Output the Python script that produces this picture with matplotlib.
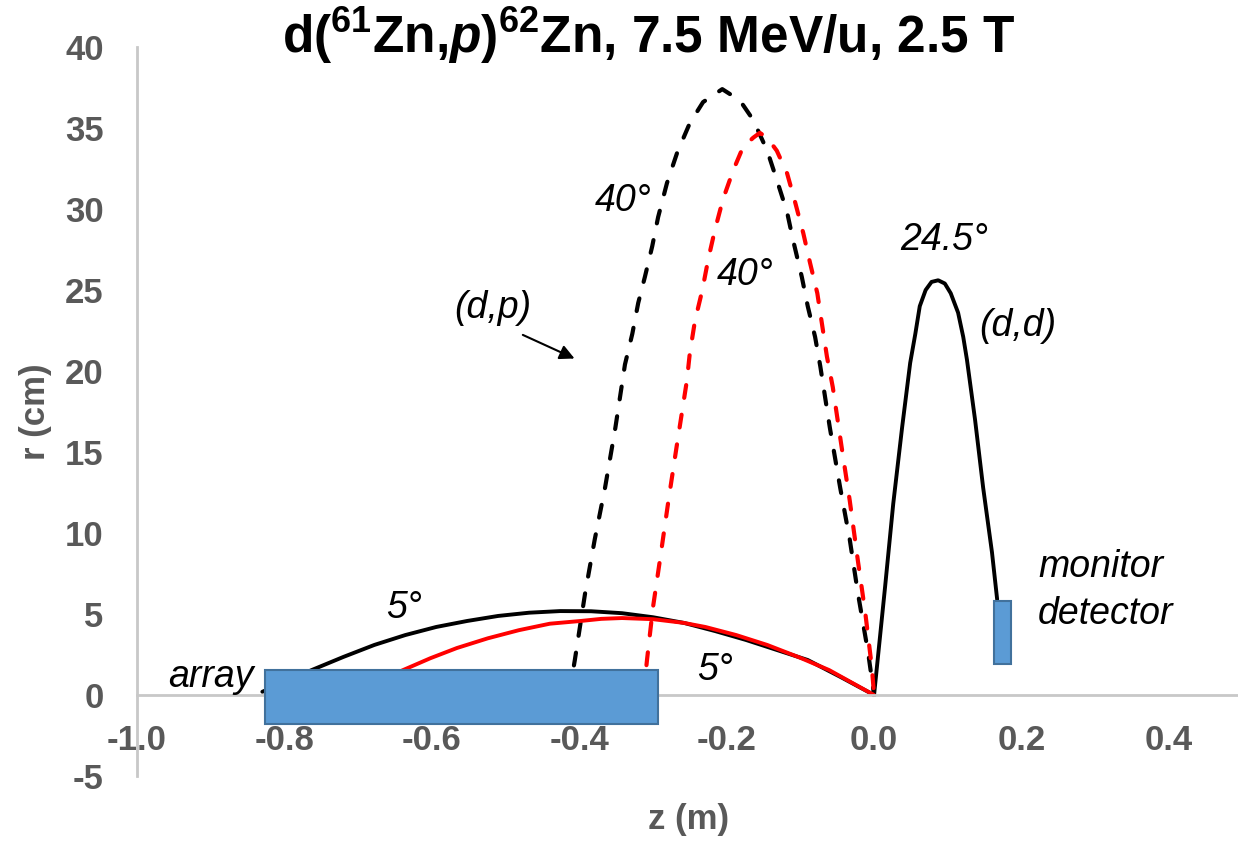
import matplotlib
matplotlib.use('Agg')
import matplotlib.pyplot as plt
from matplotlib.patches import Rectangle

plt.rcParams['font.family'] = ['Liberation Sans', 'DejaVu Sans']
plt.rcParams['axes.unicode_minus'] = False
plt.rcParams['mathtext.fontset'] = 'custom'
plt.rcParams['mathtext.rm'] = 'Liberation Sans:bold'
plt.rcParams['mathtext.it'] = 'Liberation Sans:bold:italic'
plt.rcParams['mathtext.bf'] = 'Liberation Sans:bold'

# (d,p) at 5 deg, black solid
z5_black = [-0.830, -0.763, -0.720, -0.678, -0.636, -0.594, -0.552, -0.510, -0.468, -0.426, -0.384,
            -0.342, -0.300, -0.258, -0.216, -0.174, -0.132, -0.090, -0.045, 0.0]
r5_black = [0.2, 1.54, 2.35, 3.09, 3.70, 4.20, 4.57, 4.88, 5.08, 5.18, 5.17,
            5.05, 4.80, 4.45, 3.95, 3.40, 2.78, 2.16, 1.10, 0.0]

# (d,p) at 5 deg, red solid
z5_red = [-0.700, -0.639, -0.602, -0.566, -0.524, -0.482, -0.440, -0.398, -0.370, -0.342, -0.300,
          -0.258, -0.229, -0.187, -0.145, -0.103, -0.061, 0.0]
r5_red = [0.3, 1.54, 2.27, 2.90, 3.50, 4.00, 4.40, 4.57, 4.70, 4.75, 4.68,
          4.45, 4.20, 3.70, 3.09, 2.35, 1.54, 0.0]

# (d,p) at 40 deg, black dashed
z40_black = [-0.414, -0.406, -0.392, -0.379, -0.365, -0.351, -0.338, -0.328, -0.320, -0.311, -0.301,
             -0.293, -0.281, -0.267, -0.250, -0.232, -0.206, -0.182, -0.164, -0.145, -0.132, -0.118,
             -0.110, -0.098, -0.090, -0.080, -0.073, -0.060, -0.046, -0.033, -0.022, -0.008, 0.0]
r40_black = [0.0, 2.16, 6.3, 9.6, 12.8, 16.5, 20.4, 22.3, 24.2, 25.8, 27.7,
             29.5, 31.6, 33.5, 35.3, 36.6, 37.4, 36.7, 35.5, 33.6, 31.8, 29.8,
             28.1, 25.8, 24.0, 22.1, 20.3, 16.5, 12.8, 9.6, 6.3, 2.6, 0.0]

# (d,p) at 40 deg, red dashed
z40_red = [-0.313, -0.308, -0.300, -0.290, -0.279, -0.268, -0.254, -0.250, -0.243, -0.233, -0.225,
           -0.216, -0.205, -0.191, -0.178, -0.164, -0.155, -0.145, -0.132, -0.118, -0.107, -0.096,
           -0.087, -0.077, -0.071, -0.064, -0.056, -0.044, -0.033, -0.022, -0.012, -0.003, 0.0]
r40_red = [0.0, 2.2, 5.4, 8.5, 12.0, 15.3, 19.4, 21.1, 23.1, 25.0, 26.9,
           28.7, 30.6, 32.4, 33.8, 34.4, 34.7, 34.4, 33.6, 32.2, 30.4, 28.5,
           26.7, 24.8, 23.0, 20.9, 19.0, 15.3, 12.0, 8.3, 5.1, 1.7, 0.0]

# (d,d) at 24.5 deg
z_dd = [0.0, 0.015, 0.026, 0.038, 0.049, 0.056, 0.062, 0.070, 0.078, 0.087, 0.096, 0.104, 0.114,
        0.121, 0.126, 0.137, 0.148, 0.160, 0.167]
r_dd = [0.0, 6.7, 11.8, 16.5, 20.5, 22.3, 24.0, 25.0, 25.5, 25.6, 25.4, 24.8, 23.6,
        22.1, 20.7, 17.0, 12.8, 8.8, 5.9]

# detectors: (z0, z1, r0, r1)
array_box = (-0.827, -0.293, -1.79, 1.54)
monitor_box = (0.163, 0.186, 1.9, 5.8)

x_ticks = [-1.0, -0.8, -0.6, -0.4, -0.2, 0.0, 0.2, 0.4]
y_ticks = [-5, 0, 5, 10, 15, 20, 25, 30, 35, 40]

fig = plt.figure(figsize=(12.38, 8.41), dpi=100)
ax = fig.add_axes([0.1107, 0.0773, 0.893, 0.8668])

# spines first: moving a spine resets the tick labels
for s in ['top', 'right']:
    ax.spines[s].set_visible(False)
ax.spines['bottom'].set_position(('data', 0))
for s in ['left', 'bottom']:
    ax.spines[s].set_color('#C8C8C8')
    ax.spines[s].set_linewidth(2)

lw = 2.8
dash = dict(linestyle=(0, (3.1, 4.1)), dash_capstyle='round', lw=3.0)
ax.plot(z5_black, r5_black, color='black', lw=lw, solid_capstyle='round', solid_joinstyle='round', zorder=2)
ax.plot(z5_red, r5_red, color='#FF0000', lw=lw, solid_capstyle='round', solid_joinstyle='round', zorder=2.1)
ax.plot(z40_black, r40_black, color='black', zorder=2, **dash)
ax.plot(z40_red, r40_red, color='#FF0000', zorder=2.1, **dash)
ax.plot(z_dd, r_dd, color='black', lw=lw, solid_capstyle='round', solid_joinstyle='round', zorder=2)

for z0, z1, r0, r1 in [array_box, monitor_box]:
    ax.add_patch(Rectangle((z0, r0), z1 - z0, r1 - r0, facecolor='#5B9BD5',
                           edgecolor='#41719C', lw=1.5, zorder=3))

ax.set_xlim(-1.0, 0.5)
ax.set_ylim(-5, 40)
ax.set_xticks(x_ticks)
ax.set_xticklabels([f'{v:.1f}' for v in x_ticks], fontsize=25, fontweight='bold', color='#595959')
ax.set_yticks(y_ticks)
ax.set_yticklabels([str(v) for v in y_ticks], fontsize=25, fontweight='bold', color='#595959')
ax.tick_params(axis='x', length=0, pad=21)
ax.tick_params(axis='y', length=0, pad=24)

ax.set_xlabel('z (m)', fontsize=25, fontweight='bold', color='#595959')
ax.xaxis.set_label_coords(0.4986, -0.060)
ax.xaxis.label.set_va('center')
ax.set_ylabel('r (cm)', fontsize=25, fontweight='bold', color='#595959')
ax.yaxis.set_label_coords(-0.0923, 0.5)
ax.yaxis.label.set_va('center')

fig.text(0.524, 0.958, r'd($^{61}$Zn,$\mathit{p}$)$^{62}$Zn, 7.5 MeV/u, 2.5 T',
         fontsize=37, fontweight='bold', ha='center', va='center')

it = dict(fontsize=27, style='italic', color='black', ha='center', va='center')
ax.text(-0.341, 30.5, '40°', **it)
ax.text(-0.175, 25.9, '40°', **it)
ax.text(0.095, 28.1, '24.5°', **it)
ax.text(0.195, 22.8, '(d,d)', **it)
ax.text(-0.517, 23.9, '(d,p)', **it)
ax.text(-0.638, 5.4, '5°', **it)
ax.text(-0.216, 1.54, '5°', **it)
ax.text(-0.958, 0.5, 'array', fontsize=27, style='italic', ha='left', va='baseline')
ax.text(0.2225, 7.3, 'monitor', fontsize=27, style='italic', ha='left', va='baseline')
ax.text(0.2225, 4.4, 'detector', fontsize=27, style='italic', ha='left', va='baseline')
ax.annotate('', xy=(-0.403, 20.7), xytext=(-0.480, 22.3),
            arrowprops=dict(arrowstyle='-|>', color='black', lw=1.5, mutation_scale=22))

fig.savefig('out.png', dpi=100)
